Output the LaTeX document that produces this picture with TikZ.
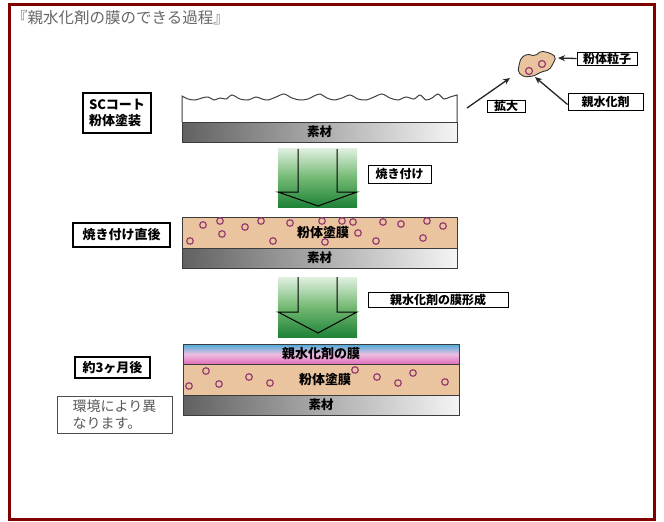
\documentclass[tikz,border=0pt]{standalone}
\usepackage{fontspec}
\setmainfont{Noto Sans CJK JP}
\usetikzlibrary{arrows.meta}
\definecolor{frame}{RGB}{128,0,0}
\definecolor{tan}{RGB}{234,196,158}
\definecolor{dotring}{RGB}{150,60,115}
\definecolor{glight}{RGB}{225,240,225}
\definecolor{gmid}{RGB}{115,185,115}
\definecolor{gdark}{RGB}{30,130,55}
\definecolor{filmtop}{RGB}{70,170,215}
\definecolor{filmmid}{RGB}{235,190,225}
\definecolor{filmbot}{RGB}{225,110,185}
\definecolor{edge}{RGB}{60,60,60}
\tikzset{
  x=1pt, y=-1pt,
  thicklbl/.style={draw, line width=2.2pt, inner sep=0pt, font=\bfseries\fontsize{13}{16}\selectfont},
  thinlbl/.style={draw, line width=0.9pt, inner sep=0pt, font=\bfseries\fontsize{12}{14}\selectfont},
  base/.style={draw=edge, line width=0.8pt, left color=black!62, right color=black!4, inner sep=0pt,
     minimum width=275pt, minimum height=20pt, font=\bfseries\fontsize{12.5}{14}\selectfont},
  coat/.style={draw=edge, line width=0.8pt, fill=tan, inner sep=0pt, minimum width=275pt,
     font=\bfseries\fontsize{13}{15}\selectfont},
  film/.style={draw=edge, line width=0.8pt, top color=filmtop, bottom color=filmbot, middle color=filmmid,
     inner sep=0pt, minimum width=276pt, minimum height=20pt, font=\bfseries\fontsize{13}{15}\selectfont},
  gsq/.style={top color=glight, bottom color=gdark, middle color=gmid, inner sep=0pt, minimum width=79pt},
  arrline/.style={draw={RGB:red,30;green,60;blue,30}, line width=1pt, line join=miter},
  dotc/.style={draw=dotring, line width=1.2pt, fill=tan},
  arr/.style={draw=black!85, line width=1.3pt, -{Stealth[length=7pt,width=6pt]}},
}
\begin{document}
\begin{tikzpicture}
\useasboundingbox (0,0) rectangle (664,522);
\fill[white] (0,0) rectangle (664,522);
\draw[line width=3pt, frame] (9.5,4.5) rectangle (654.5,519.5);

% title
\node[anchor=west, text=black!60, font=\fontsize{15.5}{18}\selectfont, inner sep=0pt] (title) at (12,18) {『親水化剤の膜のできる過程』};

% ---------- stage 1 ----------
\node[thicklbl, minimum width=68pt, minimum height=40pt, align=left] (l1) at (117,113) {SCコート\\粉体塗装};
\draw[black!75, line width=1pt, fill=white] (182,122) -- (182,96) -- plot[smooth] coordinates {
(182,96) (188,99) (195,100) (202,98) (208,97) (214,100) (220,98) (226,99) (232,95) (240,99) (248,100) (256,97)
(262,99) (268,100) (276,97) (284,94) (292,98) (300,100) (308,99) (314,96) (320,94) (327,98) (334,100) (342,98)
(350,95) (358,99) (366,100) (374,97) (382,94) (390,98) (398,100) (406,97) (414,99) (420,95) (426,100) (432,98)
(438,94) (444,99) (450,97) (457,95)} -- (457,122);
\node[base] (b1) at (319.5,132) {素材};

% arrow 1
\node[gsq, minimum height=59pt] (g1) at (317.5,177.5) {};
\draw[arrline] (298,149) -- (298,192) -- (278,192) -- (318,206) -- (357,192) -- (337,192) -- (337,149);
\node[thinlbl, minimum width=63pt, minimum height=18pt] (s1) at (399.5,174) {焼き付け};

% ---------- stage 2 ----------
\node[thicklbl, minimum width=97pt, minimum height=24pt] (l2) at (121.5,235) {焼き付け直後};
\node[coat, minimum height=31pt] (c2) at (319.5,232.5) {};
\foreach \x/\y in {203/225,220/221,222/234,190/241,245/227,261/221,273/241,290/223,322/221,325/242,
   342/221,353/222,358/233,376/241,383/222,401/224,427/221,423/238,443/226}
  \draw[dotc] (\x,\y) circle (3.3pt);
\node[font=\bfseries\fontsize{13}{15}\selectfont, inner sep=0pt] (t2) at (323,233) {粉体塗膜};
\node[base] (b2) at (319.5,258) {素材};

% arrow 2
\node[gsq, minimum height=60pt] (g2) at (317.5,307) {};
\draw[arrline] (298,277) -- (298,312) -- (278,312) -- (318,333) -- (357,312) -- (337,312) -- (337,277);
\node[thinlbl, minimum width=140pt, minimum height=15pt] (s2) at (438,299.5) {親水化剤の膜形成};

% ---------- stage 3 ----------
\node[thicklbl, minimum width=75pt, minimum height=21pt] (l3) at (112.5,367.5) {約3ヶ月後};
\node[draw=black!70, line width=0.9pt, minimum width=115pt, minimum height=36pt, inner sep=4pt, align=left,
   text=black!65, font=\fontsize{14}{17}\selectfont] (note) at (114.5,415) {環境により異\\なります。};
\node[film] (f3) at (321,354) {親水化剤の膜};
\node[coat, minimum width=276pt, minimum height=31pt] (c3) at (321,379.5) {};
\foreach \x/\y in {206/371,189/386,219/384,249/377,270/383,355/370,377/377,398/383,413/373,445/382}
  \draw[dotc] (\x,\y) circle (3.3pt);
\node[font=\bfseries\fontsize{13}{15}\selectfont, inner sep=0pt] (t3) at (325,380) {粉体塗膜};
\node[base, minimum width=276pt] (b3) at (321,405) {素材};

% ---------- magnified particle ----------
\draw[fill=tan, draw=black!80, line width=0.9pt, rounded corners=2pt]
  (521,58) -- (527,54) -- (535,56) -- (541,51) -- (550,53) -- (556,57) -- (553,64) -- (549,70)
  -- (541,72) -- (534,76) -- (524,77) -- (518,72) -- (519,65) -- cycle;
\node[dotc, circle, minimum size=7pt, inner sep=0pt] (p1) at (529,71) {};
\node[dotc, circle, minimum size=7pt, inner sep=0pt] (p2) at (542,64) {};
\coordinate (blobE) at (558,58);
\coordinate (hydro) at (535,77);
\coordinate (zs) at (467,108);
\coordinate (ze) at (510,78);
\node[thinlbl, minimum width=60pt, minimum height=13pt] (lp) at (607,58.5) {粉体粒子};
\node[thinlbl, minimum width=75pt, minimum height=17pt] (lh) at (605.5,101.5) {親水化剤};
\node[thinlbl, minimum width=38pt, minimum height=12pt] (lz) at (506,106) {拡大};
\draw[arr] (lp.west) -- (blobE);
\draw[arr] ([yshift=-3pt]lh.west) -- (hydro);
\draw[arr] (zs) -- (ze);
\end{tikzpicture}
\end{document}
